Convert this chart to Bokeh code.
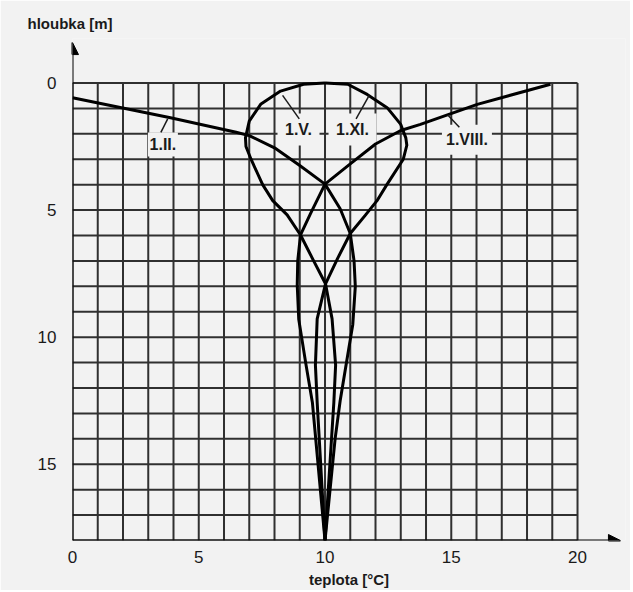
from bokeh.plotting import figure
from bokeh.models import Range1d, FixedTicker, Arrow, NormalHead
from bokeh.core.properties import value
from bokeh.embed import file_html
from bokeh.resources import INLINE

# ---- data: temperature [°C] vs depth [m] ----
feb_temp = [0.0, 3.88, 6.48, 7.0, 8.0, 9.0, 10.0, 10.6, 11.0, 11.15, 11.2, 11.1, 10.85, 10.6, 10.4, 10.0]
feb_depth = [0.58, 1.37, 1.94, 2.07, 2.55, 3.25, 3.98, 4.95, 5.92, 7.0, 8.0, 9.5, 11.0, 12.5, 14.0, 18.0]

may_temp = [10.0, 9.15, 8.24, 7.45, 7.0, 6.85, 6.87, 7.07, 7.53, 7.93, 8.5, 9.03, 9.52, 10.02, 10.28, 10.42, 10.35, 10.0]
may_depth = [0.0, 0.05, 0.32, 0.84, 1.5, 2.16, 2.5, 3.0, 4.0, 4.63, 5.19, 5.98, 6.94, 7.9, 9.28, 11.1, 12.57, 18.0]

aug_temp = [18.93, 16.03, 13.78, 13.0, 12.0, 11.0, 10.0, 9.43, 9.03, 8.92, 8.9, 8.96, 9.25, 9.5, 10.0]
aug_depth = [0.05, 0.84, 1.63, 1.87, 2.4, 3.18, 3.98, 5.13, 5.98, 7.0, 7.96, 9.3, 11.1, 12.57, 18.0]

nov_temp = [10.0, 10.9, 11.67, 12.46, 13.0, 13.2, 13.24, 13.1, 12.45, 12.06, 11.6, 11.0, 10.5, 10.02, 9.69, 9.62, 9.69, 10.0]
nov_depth = [0.0, 0.05, 0.45, 0.97, 1.63, 2.16, 2.45, 3.0, 4.0, 4.63, 5.2, 5.92, 6.9, 7.9, 9.28, 11.1, 12.57, 18.0]

curve_labels = ["1.II.", "1.V.", "1.XI.", "1.VIII."]

x_ticks = [0, 5, 10, 15, 20]
y_ticks = [0, 5, 10, 15]
grid_x = list(range(0, 21))
grid_y = list(range(0, 19))

# ---- layout / annotation positions ----
label_t = [3.58, 8.95, 11.09, 15.62]
label_d = [2.42, 1.83, 1.83, 2.23]
box_w = [30, 42, 48, 50]
box_h = [24, 32, 32, 30]
ptr_t0 = [3.50, 8.98, 11.23, 15.32]
ptr_d0 = [1.94, 1.41, 1.41, 1.74]
ptr_t1 = [3.77, 8.32, 11.75, 14.86]
ptr_d1 = [1.41, 0.49, 0.49, 1.26]

BG = "#f2f2f2"
GRID = "#303030"
FONT = "Liberation Sans"

p = figure(frame_width=553, frame_height=502,
           x_range=Range1d(0, 21.9), y_range=Range1d(18, -1.75),
           output_backend="svg", toolbar_location=None,
           min_border_left=72, min_border_right=5, min_border_top=38, min_border_bottom=50,
           background_fill_color=BG, border_fill_color=BG, outline_line_color=None,
           title="hloubka [m]")

p.xgrid.visible = False
p.ygrid.visible = False

p.title.text_font = FONT
p.title.text_font_size = "15px"
p.title.text_font_style = "bold"
p.title.text_color = "#1a1a1a"
p.title.align = "left"
p.title.offset = -45
p.title.standoff = 14

for ax in (p.xaxis[0], p.yaxis[0]):
    ax.major_tick_line_color = None
    ax.minor_tick_line_color = None
    ax.axis_line_color = None
    ax.major_label_text_font = FONT
    ax.major_label_text_font_size = "17px"
    ax.major_label_text_color = "#1a1a1a"

p.xaxis.ticker = FixedTicker(ticks=x_ticks)
p.yaxis.ticker = FixedTicker(ticks=y_ticks)
p.xaxis.major_label_standoff = 4
p.yaxis.major_label_standoff = 10
p.xaxis.axis_label = "teplota [°C]"
p.xaxis.axis_label_text_font = FONT
p.xaxis.axis_label_text_font_size = "15px"
p.xaxis.axis_label_text_font_style = "bold"
p.xaxis.axis_label_text_color = "#1a1a1a"
p.xaxis.axis_label_standoff = 5

# grid
p.segment(x0=grid_x, y0=0, x1=grid_x, y1=18, line_color=GRID, line_width=2)
p.segment(x0=0, y0=grid_y, x1=20, y1=grid_y, line_color=GRID, line_width=2)

# axes with arrows
p.add_layout(Arrow(x_start=0, y_start=18, x_end=0, y_end=-1.59, line_width=2, line_color="black",
                   end=NormalHead(size=12, fill_color="black", line_color="black")))
p.add_layout(Arrow(x_start=0, y_start=18, x_end=21.7, y_end=18, line_width=2, line_color="black",
                   end=NormalHead(size=12, fill_color="black", line_color="black")))

# label boxes
p.rect(x=label_t, y=label_d, width=box_w, height=box_h, width_units="screen", height_units="screen",
       fill_color=BG, line_color=None)

# curves
for t, d in ((feb_temp, feb_depth), (may_temp, may_depth), (aug_temp, aug_depth), (nov_temp, nov_depth)):
    p.line(t, d, line_color="black", line_width=3, line_join="round")

# pointers
p.segment(x0=ptr_t0, y0=ptr_d0, x1=ptr_t1, y1=ptr_d1, line_color="#1a1a1a", line_width=1.5)

p.text(x=label_t, y=label_d, text=curve_labels, text_align="center", text_baseline="middle",
       text_font=value(FONT), text_font_style="bold", text_font_size="16px", text_color="#1a1a1a")

open("out.html", "w").write(file_html(p, INLINE))
